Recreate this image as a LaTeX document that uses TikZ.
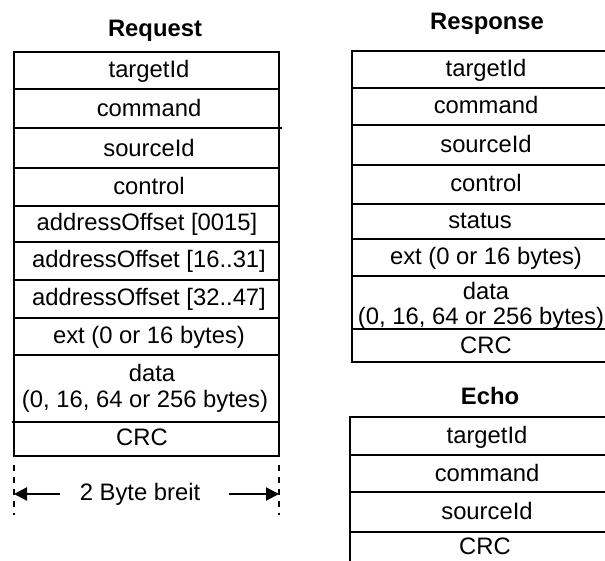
\documentclass[tikz,border=0pt]{standalone}
\usepackage{fontspec}
\setmainfont{Liberation Sans}
\usetikzlibrary{arrows.meta}
\begin{document}
\begin{tikzpicture}[x=1pt,y=-1pt,line width=2.8pt,
  lbl/.style={font=\fontsize{23.8}{26}\selectfont, inner sep=0pt, text height=16pt, text depth=1pt, align=center},
  ttl/.style={lbl, font=\fontsize{23.8}{26}\selectfont\bfseries},
  dimline/.style={line width=2.2pt, -{Triangle[length=13pt,width=13pt]}},
  guide/.style={line width=2.4pt, dash pattern=on 6pt off 6pt}]
\useasboundingbox (0,0) rectangle (605,561);
\clip (0,0) rectangle (605,561);
% ---------- Request ----------
\node[ttl] (reqT) at (155,29) {Request};
\draw (14,52) rectangle (279,456);
\foreach \y in {89,128,168,206,242,280,318,355,422} \draw (14,\y) -- (279,\y);
\draw (279,128) -- (282,128);
\draw (12,422) -- (14,422);
\node[lbl] (rq1) at (149,70.5) {targetId};
\node[lbl] (rq2) at (149,109) {command};
\node[lbl] (rq3) at (149,149) {sourceId};
\node[lbl] (rq4) at (149,187) {control};
\node[lbl] (rq5) at (147,223) {addressOffset [0015]};
\node[lbl] (rq6) at (149,260) {addressOffset [16..31]};
\node[lbl] (rq7) at (149,298) {addressOffset [32..47]};
\node[lbl] (rq8) at (149,336) {ext (0 or 16 bytes)};
\node[lbl] (rq9a) at (152,374) {data};
\node[lbl] (rq9b) at (145,400) {(0, 16, 64 or 256 bytes)};
\node[lbl] (rq10) at (142,438) {CRC};
% dimension
\draw[guide] (14,465) -- (14,515);
\draw[guide] (279,465) -- (279,515);
\node[lbl] (dim) at (140,493) {2 Byte breit};
\coordinate (la) at (60,494);
\coordinate (lt) at (14,494);
\coordinate (ra) at (229,494);
\coordinate (rt) at (279,494);
\draw[dimline] (la) -- (lt);
\draw[dimline] (ra) -- (rt);
% ---------- Response ----------
\node[ttl] (rsT) at (487,22) {Response};
\draw (620,51) -- (352,51) -- (352,362) -- (620,362);
\foreach \y in {88,125,165,204,239,276,329} \draw (352,\y) -- (620,\y);
\node[lbl] (rs1) at (486,69.5) {targetId};
\node[lbl] (rs2) at (486,106.5) {command};
\node[lbl] (rs3) at (486,145.5) {sourceId};
\node[lbl] (rs4) at (486,184.5) {control};
\node[lbl] (rs5) at (480,221) {status};
\node[lbl] (rs6) at (486,257.5) {ext (0 or 16 bytes)};
\node[lbl] (rs7a) at (486,292) {data};
\node[lbl] (rs7b) at (481,317) {(0, 16, 64 or 256 bytes)};
\node[lbl] (rs8) at (486,346) {CRC};
% ---------- Echo ----------
\node[ttl] (ecT) at (490,397) {Echo};
\draw (620,417) -- (350,417) -- (350,570);
\foreach \y in {455,492,532} \draw (350,\y) -- (620,\y);
\node[lbl] (ec1) at (487,436) {targetId};
\node[lbl] (ec2) at (487,473.5) {command};
\node[lbl] (ec3) at (487,512) {sourceId};
\node[lbl] (ec4) at (485,547) {CRC};
\end{tikzpicture}
\end{document}
